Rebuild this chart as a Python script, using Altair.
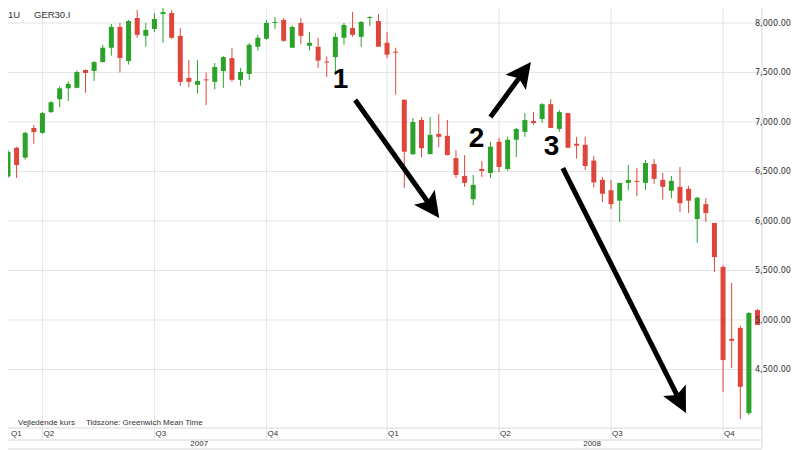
import math
import altair as alt
import pandas as pd

# ---------------- data (weekly candles, GER30) ----------------
opens = [6450, 6740, 6640, 6940, 6890, 7100, 7230, 7340, 7345, 7525,
         7515, 7605, 7750, 7960, 7615, 8050, 7870, 7940, 8090, 8100,
         7870, 7445, 7375, 7430, 7405, 7515, 7645, 7425, 7485, 7760,
         7840, 8000, 8030, 7750, 8000, 7770, 7760, 7610, 7655, 7850,
         7950, 7860, 8050, 8020, 7800, 7710, 7225, 6675, 7020, 6675,
         6880, 6860, 6635, 6455, 6220, 6525, 6485, 6800, 6525, 6820,
         6900, 7010, 7030, 7180, 6930, 7090, 6780, 6770, 6610, 6415,
         6310, 6205, 6385, 6405, 6385, 6575, 6415, 6305, 6345, 6325,
         6020, 6170, 5980, 5535, 4810, 4920, 4060, 5100]
highs = [6720, 6750, 6900, 6970, 7100, 7210, 7360, 7410, 7520, 7530,
         7615, 7780, 7990, 8000, 8030, 8130, 8000, 8100, 8150, 8130,
         7950, 7625, 7625, 7500, 7595, 7665, 7745, 7545, 7800, 7880,
         8030, 8060, 8050, 7975, 8050, 7910, 7850, 7660, 7900, 8000,
         8110, 8020, 8070, 8090, 7910, 7750, 7225, 7040, 7050, 7050,
         7080, 7020, 6715, 6665, 6465, 6605, 6800, 6840, 6850, 6940,
         7090, 7100, 7190, 7230, 7120, 7090, 6850, 6850, 6655, 6445,
         6415, 6385, 6565, 6535, 6615, 6625, 6485, 6455, 6545, 6355,
         6245, 6230, 5980, 5555, 5375, 4940, 5080, 5110]
lows = [6430, 6435, 6620, 6780, 6880, 7090, 7150, 7210, 7340, 7295,
        7415, 7600, 7670, 7500, 7580, 7850, 7760, 7910, 7800, 7840,
        7365, 7350, 7290, 7170, 7330, 7345, 7405, 7365, 7425, 7720,
        7830, 7940, 7810, 7750, 7785, 7720, 7545, 7455, 7500, 7780,
        7860, 7760, 7970, 7760, 7645, 7275, 6335, 6665, 6645, 6675,
        6745, 6665, 6435, 6345, 6160, 6445, 6435, 6495, 6505, 6645,
        6850, 6970, 6990, 6940, 6900, 6740, 6630, 6515, 6340, 6190,
        6120, 5990, 6310, 6250, 6315, 6375, 6215, 6230, 6090, 6080,
        5780, 5990, 5485, 4275, 4515, 4000, 4040, 4950]
closes = [6700, 6565, 6890, 6900, 7090, 7200, 7340, 7385, 7505, 7495,
          7605, 7750, 7960, 7645, 8020, 7880, 7930, 8040, 8110, 7850,
          7405, 7405, 7415, 7420, 7555, 7655, 7425, 7505, 7780, 7850,
          8000, 8010, 7820, 7960, 7870, 7800, 7620, 7600, 7860, 7980,
          7880, 8010, 8060, 7760, 7680, 7700, 6700, 7000, 6735, 6870,
          6850, 6665, 6465, 6385, 6365, 6505, 6750, 6545, 6820, 6930,
          7020, 6990, 7180, 6940, 7100, 6740, 6760, 6555, 6390, 6275,
          6170, 6385, 6415, 6395, 6585, 6425, 6345, 6405, 6180, 6205,
          6235, 6080, 5635, 4595, 4790, 4325, 5070, 4950]

y_ticks = [4500, 5000, 5500, 6000, 6500, 7000, 7500, 8000]
quarter_starts = [4, 17, 30, 44, 57, 70, 83]
quarter_label_pos = [0.23, 4, 17, 30, 44, 57, 70, 83]
quarter_labels = ["Q1", "Q2", "Q3", "Q4", "Q1", "Q2", "Q3", "Q4"]
years = ["2007", "2008"]
year_pos = [22.2, 67.8]

arrow_tail_t = [40.3, 56.0, 64.4]
arrow_tail_p = [7222, 7050, 6535]
arrow_tip_t = [50.06, 60.7, 78.7]
arrow_tip_p = [6030, 7606, 4061]
num_labels = ["1", "2", "3"]
num_t = [38.6, 54.4, 63.1]
num_p = [7424, 6828, 6747]

# ---------------- layout / style ----------------
W, H = 762, 428
X_DOM = [-0.344, 86.94]
Y_DOM = [3909, 8232]
FONT = "Liberation Sans"
NARROW = "Liberation Sans Narrow, Arial Narrow, DejaVu Sans Condensed, Liberation Sans"
GREEN = "#2ba32b"
RED = "#de463c"
GRID = "#e4e4e4"
FRAME = "#d8d8d8"
TXT = "#333333"

xs = alt.Scale(domain=X_DOM, nice=False, zero=False)
ys = alt.Scale(domain=Y_DOM, nice=False, zero=False)
XT = lambda f: alt.X(f, scale=xs, axis=None)
YP = lambda f: alt.Y(f, scale=ys, axis=None)

candles = pd.DataFrame({
    "t": list(range(len(opens))),
    "open": opens, "high": highs, "low": lows, "close": closes,
})
candles["dir"] = ["up" if c >= o else "down" for o, c in zip(opens, closes)]
color = alt.Color("dir:N", scale=alt.Scale(domain=["up", "down"], range=[GREEN, RED]), legend=None)

# horizontal price grid + right-hand labels
ydf = pd.DataFrame({"p": y_ticks, "lab": [f"{v:,.2f}" for v in y_ticks]})
hgrid = alt.Chart(ydf).mark_rule(color=GRID, strokeWidth=1).encode(
    y=YP("p:Q"), x=alt.value(5), x2=alt.value(W))
ylabs = alt.Chart(ydf).mark_text(align="right", baseline="middle",
                                 fontSize=9, font=NARROW, color=TXT).encode(
    y=YP("p:Q"), x=alt.value(W + 29), text="lab:N")

base = alt.Chart(candles)
wicks = base.mark_rule(strokeWidth=1, clip=True).encode(
    x=XT("t:Q"), y=YP("low:Q"), y2="high:Q", color=color)
bodies = base.mark_bar(size=5, clip=True).encode(
    x=XT("t:Q"), y=YP("open:Q"), y2="close:Q", color=color)

qdf = pd.DataFrame({"t": quarter_starts})
qrules = alt.Chart(qdf).mark_rule(color=GRID, strokeWidth=1).encode(
    x=XT("t:Q"), y=alt.value(0), y2=alt.value(440))
qldf = pd.DataFrame({"t": quarter_label_pos, "lab": quarter_labels})
qlabels = alt.Chart(qldf).mark_text(align="left", baseline="middle", dx=1,
                                    fontSize=8, font=FONT, color=TXT).encode(
    x=XT("t:Q"), y=alt.value(434), text="lab:N")
yrdf = pd.DataFrame({"t": year_pos, "lab": years})
ylabels = alt.Chart(yrdf).mark_text(align="center", baseline="middle",
                                    fontSize=8, font=FONT, color=TXT).encode(
    x=XT("t:Q"), y=alt.value(444), text="lab:N")

one = pd.DataFrame({"a": [0]})
band_lines = [
    alt.Chart(one).mark_rule(color=FRAME, strokeWidth=1).encode(
        x=alt.value(0), x2=alt.value(W), y=alt.value(yy))
    for yy in (428, 440, 449)
]
vline = alt.Chart(one).mark_rule(color=FRAME, strokeWidth=1).encode(
    x=alt.value(W), y=alt.value(0), y2=alt.value(449))

# arrows (data coordinates -> pixel direction for head rotation)
ppx = W / (X_DOM[1] - X_DOM[0])
ppy = H / (Y_DOM[1] - Y_DOM[0])
HEAD_R = 15
rows = []
for tt, tp, ht, hp in zip(arrow_tail_t, arrow_tail_p, arrow_tip_t, arrow_tip_p):
    dx = (ht - tt) * ppx
    dy = -(hp - tp) * ppy
    L = math.hypot(dx, dy)
    ux, uy = dx / L, dy / L
    back = HEAD_R * 1.3
    st = ht - ux * back / ppx
    sp = hp + uy * back / ppy
    ang = math.degrees(math.atan2(dx, -dy)) % 360
    rows.append({"t": tt, "p": tp, "t2": st, "p2": sp, "ht": ht, "hp": hp, "ang": ang})
adf = pd.DataFrame(rows)
shafts = alt.Chart(adf).mark_rule(color="black", strokeWidth=5, strokeCap="butt").encode(
    x=XT("t:Q"), y=YP("p:Q"), x2="t2:Q", y2="p2:Q")
heads = alt.Chart(adf).mark_point(
    shape="M0,0L0.85,1.7L0,1.35L-0.85,1.7Z", filled=True, opacity=1,
    size=(2 * HEAD_R) ** 2, color="black", strokeWidth=0).encode(
    x=XT("ht:Q"), y=YP("hp:Q"), angle=alt.Angle("ang:Q", scale=None))
ndf = pd.DataFrame({"t": num_t, "p": num_p, "lab": num_labels})
nums = alt.Chart(ndf).mark_text(fontSize=28, fontWeight="bold", font=FONT,
                                color="black", align="center", baseline="middle").encode(
    x=XT("t:Q"), y=YP("p:Q"), text="lab:N")

top_txt = pd.DataFrame({"xx": [8, 34], "lab": ["1U", "GER30.I"]})
toplab = alt.Chart(top_txt).mark_text(align="left", baseline="middle", fontSize=9.5,
                                      font=FONT, color=TXT).encode(
    x=alt.X("xx:Q", scale=None), y=alt.value(15), text="lab:N")
note_txt = pd.DataFrame({"xx": [18, 86], "lab": ["Vejledende kurs", "Tidszone: Greenwich Mean Time"]})
notes = alt.Chart(note_txt).mark_text(align="left", baseline="middle", fontSize=8,
                                      font=FONT, color=TXT).encode(
    x=alt.X("xx:Q", scale=None), y=alt.value(423), text="lab:N")

chart = alt.layer(
    hgrid, qrules, *band_lines, vline, wicks, bodies, shafts, heads, nums,
    ylabs, qlabels, ylabels, toplab, notes,
).properties(
    width=W, height=H,
    padding={"left": -8, "top": -8, "right": 30, "bottom": 24},
    autosize=alt.AutoSizeParams(type="none"),
    background="white",
).configure_view(strokeWidth=0)

chart.save("out.html", embed_options={"renderer": "svg", "actions": False})
